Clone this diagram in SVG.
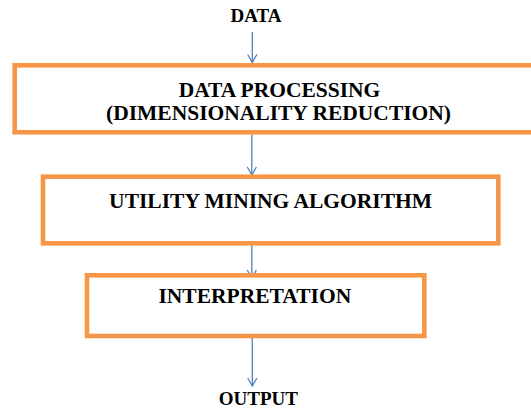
<svg xmlns="http://www.w3.org/2000/svg" width="531" height="412" viewBox="0 0 531 412">
  <style>
    .box { fill: #ffffff; stroke: #f79646; stroke-width: 4.6; }
    .lbl { font-family: "Liberation Serif", "Times New Roman", "DejaVu Serif", serif; font-weight: bold; fill: #000000; text-anchor: middle; }
    .big { font-size: 21.5px; }
    .io { font-size: 19px; }
    .flow { stroke: #4f81bd; stroke-width: 1.3; fill: none; marker-end: url(#arrow); }
  </style>
  <defs>
    <!-- open V arrowhead, drawn along the +x direction of the line -->
    <marker id="arrow" markerUnits="userSpaceOnUse" markerWidth="12" markerHeight="12" viewBox="-10 -6 12 12" refX="0" refY="0" orient="auto">
      <path d="M -8 -4.6 L 0 0 L -8 4.6" fill="none" stroke="#4f81bd" stroke-width="1.3"/>
    </marker>
  </defs>

  <!-- connectors -->
  <g id="connectors">
    <line class="flow" x1="252.3" y1="32" x2="252.3" y2="62.5"/>
    <line class="flow" x1="251.8" y1="134.5" x2="251.8" y2="175"/>
    <line class="flow" x1="251.8" y1="238.5" x2="251.8" y2="278"/>
    <line class="flow" x1="252.3" y1="333" x2="252.3" y2="386"/>
  </g>

  <g id="data">
    <text class="lbl io" x="256" y="21.7">DATA</text>
  </g>

  <g id="data-processing">
    <rect class="box" x="14.7" y="65.3" width="530" height="67"/>
    <text class="lbl big" x="279.5" y="96.5">DATA PROCESSING</text>
    <text class="lbl big" x="278.5" y="120">(DIMENSIONALITY REDUCTION)</text>
  </g>

  <g id="utility-mining">
    <rect class="box" x="43" y="176.7" width="455.3" height="66.6"/>
    <text class="lbl big" x="270.6" y="208">UTILITY MINING ALGORITHM</text>
  </g>

  <g id="interpretation">
    <rect class="box" x="87" y="275.3" width="337.3" height="60.7"/>
    <text class="lbl big" x="254.8" y="303.4">INTERPRETATION</text>
  </g>

  <g id="output">
    <text class="lbl io" x="258.3" y="405">OUTPUT</text>
  </g>
</svg>
